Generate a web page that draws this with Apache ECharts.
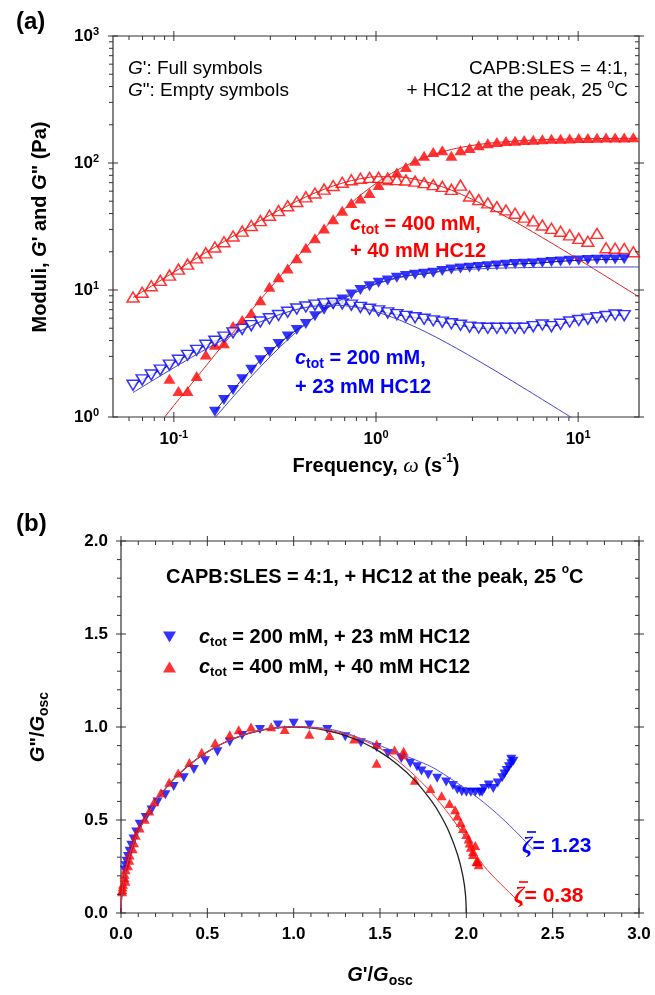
<!DOCTYPE html>
<html>
<head>
<meta charset="utf-8">
<script src="https://cdn.jsdelivr.net/npm/echarts@6/dist/echarts.min.js"></script>
<style>
  html, body { margin: 0; padding: 0; background: #fff; }
  #chart { width: 655px; height: 995px; }
</style>
</head>
<body>
<div id="chart"></div>
<script>
// ---- oscillatory sweep, angular frequency (rad/s) ----
const omega = [0.0628,0.0697,0.0773,0.0857,0.0951,0.1054,0.1169,0.1297,0.1439,0.1596,
  0.1770,0.1963,0.2178,0.2415,0.2679,0.2972,0.3296,0.3656,0.4055,0.4498,
  0.4989,0.5534,0.6138,0.6808,0.7551,0.8375,0.9290,1.030,1.143,1.268,
  1.406,1.560,1.730,1.919,2.128,2.360,2.618,2.904,3.221,3.573,
  3.963,4.395,4.875,5.408,5.998,6.653,7.379,8.185,9.078,10.07,
  11.17,12.39,13.74,15.24,16.90,18.75];

// c_tot = 400 mM + 40 mM HC12 (Pa)
const gPrime400 = [0.50,0.61,0.74,0.91,2.0,1.6,1.6,2.1,3.1,3.7,
  3.8,5.2,5.8,6.6,8.3,10.6,12.6,14.8,17.8,21.5,
  25.5,30.5,36,42,48.5,52.5,58,67,73,84,
  93,104,114,122,126,114,126,131,138,143,
  146.5,149,150,151.5,152.5,154,155,155.5,156,157,
  157,158,159,158.5,159,159.5];
const gDouble400 = [8.8,9.6,10.8,11.9,13.1,14.6,16.0,17.9,19.6,21.8,
  24.0,26.6,29.1,32.2,35.2,38.8,42.2,46.1,49.8,54.1,
  58.0,62.3,66.5,70.5,73.8,75.9,77.0,77.1,76.0,74.0,
  73.5,72.0,70.0,67.5,65.5,62.0,67.0,55.0,51.5,48.5,
  45.3,42.7,40.2,37.5,35.0,32.5,30.6,29.0,27.2,25.5,
  24.2,27.9,21.5,21.3,21.2,20.0];

// c_tot = 200 mM + 23 mM HC12 (Pa)
const gPrime200 = [0.17,0.21,0.25,0.31,0.38,0.46,0.56,0.68,0.83,1.1,
  1.36,1.63,1.98,2.35,2.8,3.25,3.75,4.3,4.85,5.4,
  6.2,7.0,7.7,8.4,9.2,10.0,10.7,11.4,11.9,12.5,
  12.9,13.2,13.4,13.7,14.1,14.5,14.8,15.0,15.2,15.4,
  15.6,15.8,16.0,16.1,16.2,16.4,16.6,16.8,17.0,17.1,
  17.2,17.3,17.4,17.4,17.5,null];
const gDouble200 = [1.78,1.96,2.14,2.34,2.56,2.80,3.06,3.35,3.67,3.95,
  4.26,4.60,4.90,5.24,5.60,5.94,6.30,6.68,7.08,7.35,
  7.60,7.78,7.86,7.78,7.60,7.30,7.05,6.85,6.60,6.40,
  6.20,6.05,5.88,5.72,5.58,5.42,5.28,5.10,5.02,5.00,
  5.00,5.00,5.00,5.00,5.15,5.30,5.15,5.38,5.60,5.75,
  5.90,6.05,6.18,6.36,6.28,null];

// Maxwell model curves
const fitOmega = [0.0628,0.08,0.1,0.13,0.16,0.2,0.25,0.32,0.4,0.5,0.63,0.8,1.0,
  1.26,1.6,2.0,2.5,3.2,4.0,5.0,6.3,8.0,10,12.6,16,20];
const fitGPrime400 = [0.487,0.787,1.23,2.06,3.10,4.79,7.36,11.7,17.6,25.8,37.4,52.6,69.1,
  87.2,104.9,119.1,130.5,139.7,145.4,149.4,152.1,153.9,155.0,155.8,156.2,156.5];
const fitGDouble400 = [8.72,11.08,13.82,17.86,21.84,27.0,33.19,41.24,49.47,58.18,66.85,74.10,77.94,
  78.01,73.93,67.16,58.84,49.21,40.99,33.69,27.22,21.70,17.48,13.94,11.01,8.82];
const fitGPrime200 = [0.161,0.260,0.403,0.669,0.990,1.49,2.21,3.31,4.61,6.16,7.89,9.66,11.12,
  12.34,13.29,13.92,14.36,14.67,14.86,14.98,15.06,15.11,15.14,15.17,15.18,15.19];
const fitGDouble200 = [1.558,1.972,2.442,3.117,3.751,4.523,5.358,6.276,6.987,7.462,7.594,7.316,6.737,
  5.938,5.035,4.219,3.479,2.779,2.251,1.816,1.449,1.145,0.918,0.730,0.575,0.456];

// scaling moduli for the Cole-Cole plot (Pa)
const gOsc400 = 77;
const gOsc200 = 7.7;

// Cole-Cole reference semicircle and model curves
const circleX = [0,0.005,0.02,0.05,0.1,0.15,0.2,0.3,0.4,0.5,0.6,0.7,0.8,0.9,1.0,
  1.1,1.2,1.3,1.4,1.5,1.6,1.7,1.8,1.85,1.9,1.95,1.98,1.995,2.0];
const circleY = [0,0.0999,0.199,0.3122,0.4359,0.5268,0.6,0.7141,0.8,0.866,0.9165,0.9539,0.9798,0.995,1,
  0.995,0.9798,0.9539,0.9165,0.866,0.8,0.7141,0.6,0.5268,0.4359,0.3122,0.199,0.0999,0];
const zeta038X = [0,0.005,0.02,0.05,0.1,0.2,0.3,0.4,0.5,0.6,0.7,0.8,0.9,1.0,1.1,1.2,1.3,
  1.4,1.5,1.6,1.7,1.8,1.9,2.0,2.1,2.2,2.25,2.3,2.33];
const zeta038Y = [0,0.1,0.2,0.312,0.436,0.6,0.714,0.8,0.866,0.917,0.955,0.981,0.996,1.0,0.997,0.984,0.962,
  0.93,0.885,0.82,0.74,0.645,0.53,0.4,0.255,0.155,0.11,0.065,0.04];
const zeta123X = [0,0.005,0.02,0.05,0.1,0.2,0.3,0.4,0.5,0.6,0.7,0.8,0.9,1.0,1.1,1.2,1.3,
  1.4,1.5,1.6,1.7,1.8,1.9,2.0,2.1,2.2,2.3,2.39];
const zeta123Y = [0,0.1,0.2,0.312,0.436,0.6,0.714,0.8,0.866,0.917,0.955,0.982,0.997,1.003,1.0,0.99,0.968,
  0.935,0.9,0.862,0.825,0.785,0.728,0.665,0.595,0.515,0.425,0.337];

// axis ticks
const freqMajor = [0.1, 1, 10];
const freqMinor = [0.06,0.07,0.08,0.09,0.2,0.3,0.4,0.5,0.6,0.7,0.8,0.9,2,3,4,5,6,7,8,9];
const modMajor = [1, 10, 100, 1000];
const modMinor = [2,3,4,5,6,7,8,9,20,30,40,50,60,70,80,90,200,300,400,500,600,700,800,900];
const ratioXMajor = [0,0.5,1.0,1.5,2.0,2.5,3.0];
const ratioXMinor = [0.1,0.2,0.3,0.4,0.6,0.7,0.8,0.9,1.1,1.2,1.3,1.4,1.6,1.7,1.8,1.9,2.1,2.2,2.3,2.4,2.6,2.7,2.8,2.9];
const ratioYMajor = [0,0.5,1.0,1.5,2.0];
const ratioYMinor = [0.1,0.2,0.3,0.4,0.6,0.7,0.8,0.9,1.1,1.2,1.3,1.4,1.6,1.7,1.8,1.9];

const FONT = '"Liberation Sans", Arial, Helvetica, sans-serif';
const SERIF = '"Liberation Serif", "Times New Roman", serif';
const RED = '#ff0000';
const BLUE = '#0000ff';
const AXIS = '#333333';

function pairs(xs, ys, minY) {
  const out = [];
  for (let i = 0; i < xs.length; i++) {
    const y = ys[i];
    if (y == null || (minY != null && y < minY)) continue;
    out.push([xs[i], y]);
  }
  return out;
}
function scaled(gp, gpp, gosc) {
  const out = [];
  for (let i = 0; i < gp.length; i++) {
    if (gp[i] == null || gpp[i] == null) continue;
    out.push([gp[i] / gosc, gpp[i] / gosc]);
  }
  return out;
}
// tick records: [value, value, side, major]; side 0 bottom, 1 top, 2 left, 3 right
function tickData(xMajor, xMinor, yMajor, yMinor) {
  const d = [];
  [0, 1].forEach(s => {
    xMajor.forEach(v => d.push([v, v, s, 1]));
    xMinor.forEach(v => d.push([v, v, s, 0]));
  });
  [2, 3].forEach(s => {
    yMajor.forEach(v => d.push([v, v, s, 1]));
    yMinor.forEach(v => d.push([v, v, s, 0]));
  });
  return d;
}
function tickRenderer(ext) {
  return function (params, api) {
    const v = api.value(0), side = api.value(2), major = api.value(3) === 1;
    const p = side === 0 ? api.coord([v, ext[2]])
            : side === 1 ? api.coord([v, ext[3]])
            : side === 2 ? api.coord([ext[0], v])
            : api.coord([ext[1], v]);
    const up = major ? 5 : 0;     // toward top / right
    const down = major ? 5 : 4;   // toward bottom / left
    const shape = side < 2
      ? { x1: p[0], y1: p[1] - up, x2: p[0], y2: p[1] + down }
      : { x1: p[0] - down, y1: p[1], x2: p[0] + up, y2: p[1] };
    return { type: 'line', shape: shape, style: { stroke: AXIS, lineWidth: 1 } };
  };
}

const labelRich = {
  b: { fontSize: 17, fontWeight: 'bold', fontFamily: FONT, color: '#000', lineHeight: 20 },
  s: { fontSize: 11, fontWeight: 'bold', fontFamily: FONT, color: '#000', verticalAlign: 'top', lineHeight: 11 }
};
function powLabel(v) {
  return '{b|10}{s|' + Math.round(Math.log10(v)) + '}';
}

function richSet(size, color, weight) {
  return {
    t: { fontSize: size, fontWeight: weight, fontFamily: FONT, fill: color, lineHeight: size + 6 },
    i: { fontSize: size, fontWeight: weight, fontStyle: 'italic', fontFamily: FONT, fill: color, lineHeight: size + 6 },
    sub: { fontSize: Math.round(size * 0.68), fontWeight: weight, fontFamily: FONT, fill: color, verticalAlign: 'bottom', lineHeight: Math.round(size * 0.68) },
    sup: { fontSize: Math.round(size * 0.62), fontWeight: weight, fontFamily: FONT, fill: color, verticalAlign: 'top', lineHeight: Math.round(size * 0.62) },
    w: { fontSize: size + 2, fontStyle: 'italic', fontFamily: SERIF, fill: color, lineHeight: size + 6 },
    z: { fontSize: size + 3, fontStyle: 'italic', fontWeight: 'bold', fontFamily: SERIF, fill: color, lineHeight: size + 6 }
  };
}
function label(x, y, text, opts) {
  opts = opts || {};
  return {
    type: 'text', x: x, y: y, rotation: opts.rotation || 0, silent: true, z: 50,
    style: {
      text: text,
      rich: richSet(opts.size || 18, opts.color || '#000', opts.weight || 'bold'),
      align: opts.align || 'left', verticalAlign: 'middle'
    }
  };
}
function overbar(x1, x2, y, color) {
  return { type: 'line', silent: true, z: 50, shape: { x1: x1, y1: y, x2: x2, y2: y },
           style: { stroke: color, lineWidth: 1.6 } };
}

const chart = echarts.init(document.getElementById('chart'), null, { renderer: 'canvas' });

const triUp = { symbol: 'triangle', symbolRotate: 0 };
const triDown = { symbol: 'triangle', symbolRotate: 180 };
const SYM_A = [12, 10];
const SYM_B = [10, 9];

const option = {
  animation: false,
  backgroundColor: '#ffffff',
  grid: [
    { left: 113, top: 36, width: 526, height: 381, show: true, borderColor: AXIS, borderWidth: 1.2, backgroundColor: 'transparent' },
    { left: 121, top: 541, width: 518, height: 372, show: true, borderColor: AXIS, borderWidth: 1.2, backgroundColor: 'transparent' }
  ],
  xAxis: [
    { type: 'log', logBase: 10, gridIndex: 0, min: 0.05, max: 20,
      axisLine: { show: false }, axisTick: { show: false }, splitLine: { show: false },
      axisLabel: { formatter: powLabel, rich: labelRich, margin: 12, showMinLabel: false, showMaxLabel: false } },
    { type: 'value', gridIndex: 1, min: 0, max: 3, interval: 0.5,
      axisLine: { show: false }, axisTick: { show: false }, splitLine: { show: false },
      axisLabel: { formatter: v => v.toFixed(1), margin: 13, fontSize: 17, fontWeight: 'bold', fontFamily: FONT, color: '#000' } }
  ],
  yAxis: [
    { type: 'log', logBase: 10, gridIndex: 0, min: 1, max: 1000,
      axisLine: { show: false }, axisTick: { show: false }, splitLine: { show: false },
      axisLabel: { formatter: powLabel, rich: labelRich, margin: 14 } },
    { type: 'value', gridIndex: 1, min: 0, max: 2, interval: 0.5,
      axisLine: { show: false }, axisTick: { show: false }, splitLine: { show: false },
      axisLabel: { formatter: v => v.toFixed(1), margin: 13, fontSize: 17, fontWeight: 'bold', fontFamily: FONT, color: '#000' } }
  ],
  legend: {
    data: [
      { name: 'c200', icon: 'path://M0,0L12,0L6,10Z' },
      { name: 'c400', icon: 'path://M6,0L12,10L0,10Z' }
    ],
    orient: 'vertical', left: 158, top: 622, itemGap: 8, itemWidth: 13, itemHeight: 11,
    selectedMode: false,
    formatter: function (name) {
      return name === 'c200'
        ? '{sp| }{i|c}{sub|tot}{t| = 200 mM, + 23 mM HC12}'
        : '{sp| }{i|c}{sub|tot}{t| = 400 mM, + 40 mM HC12}';
    },
    textStyle: {
      rich: {
        sp: { width: 18, fontSize: 20 },
        t: { fontSize: 20, fontWeight: 'bold', fontFamily: FONT, color: '#000', lineHeight: 24 },
        i: { fontSize: 20, fontWeight: 'bold', fontStyle: 'italic', fontFamily: FONT, color: '#000', lineHeight: 24 },
        sub: { fontSize: 13, fontWeight: 'bold', fontFamily: FONT, color: '#000', verticalAlign: 'bottom', lineHeight: 13 }
      }
    }
  },
  series: [
    // ---- panel (a): frequency sweep ----
    { type: 'custom', xAxisIndex: 0, yAxisIndex: 0, silent: true, z: 20,
      renderItem: tickRenderer([0.05, 20, 1, 1000]),
      data: tickData(freqMajor, freqMinor, modMajor, modMinor) },
    { type: 'line', xAxisIndex: 0, yAxisIndex: 0, data: pairs(omega, gDouble200), smooth: 0.4,
      showSymbol: false, lineStyle: { color: '#111133', width: 1 }, z: 2, silent: true },
    { type: 'line', xAxisIndex: 0, yAxisIndex: 0, data: pairs(omega, gPrime200, 1), smooth: 0.4,
      showSymbol: false, lineStyle: { color: '#111133', width: 1 }, z: 2, silent: true },
    Object.assign({ type: 'scatter', name: 'G400p', xAxisIndex: 0, yAxisIndex: 0, clip: false,
      data: pairs(omega, gPrime400, 1), symbolSize: SYM_A, z: 3,
      itemStyle: { color: RED } }, triUp),
    Object.assign({ type: 'scatter', name: 'G400pp', xAxisIndex: 0, yAxisIndex: 0, clip: false,
      data: pairs(omega, gDouble400, 1), symbolSize: SYM_A, z: 3,
      itemStyle: { color: '#ffffff', borderColor: RED, borderWidth: 1.5 } }, triUp),
    Object.assign({ type: 'scatter', name: 'G200p', xAxisIndex: 0, yAxisIndex: 0, clip: false,
      data: pairs(omega, gPrime200, 1), symbolSize: SYM_A, z: 3,
      itemStyle: { color: BLUE } }, triDown),
    Object.assign({ type: 'scatter', name: 'G200pp', xAxisIndex: 0, yAxisIndex: 0, clip: false,
      data: pairs(omega, gDouble200, 1), symbolSize: SYM_A, z: 3,
      itemStyle: { color: '#ffffff', borderColor: BLUE, borderWidth: 1.5 } }, triDown),
    { type: 'line', xAxisIndex: 0, yAxisIndex: 0, data: pairs(fitOmega, fitGPrime400), smooth: 0.3,
      showSymbol: false, lineStyle: { color: '#ee2020', width: 1 }, z: 4, silent: true },
    { type: 'line', xAxisIndex: 0, yAxisIndex: 0, data: pairs(fitOmega, fitGDouble400), smooth: 0.3,
      showSymbol: false, lineStyle: { color: '#ee2020', width: 1 }, z: 4, silent: true },
    { type: 'line', xAxisIndex: 0, yAxisIndex: 0, data: pairs(fitOmega, fitGPrime200), smooth: 0.3,
      showSymbol: false, lineStyle: { color: '#4444cc', width: 1 }, z: 4, silent: true },
    { type: 'line', xAxisIndex: 0, yAxisIndex: 0, data: pairs(fitOmega, fitGDouble200), smooth: 0.3,
      showSymbol: false, lineStyle: { color: '#4444cc', width: 1 }, z: 4, silent: true },

    // ---- panel (b): Cole-Cole plot ----
    { type: 'custom', xAxisIndex: 1, yAxisIndex: 1, silent: true, z: 20,
      renderItem: tickRenderer([0, 3, 0, 2]),
      data: tickData(ratioXMajor, ratioXMinor, ratioYMajor, ratioYMinor) },
    Object.assign({ type: 'scatter', name: 'c200', xAxisIndex: 1, yAxisIndex: 1, clip: false,
      data: scaled(gPrime200, gDouble200, gOsc200), symbolSize: SYM_B, z: 3,
      itemStyle: { color: BLUE } }, triDown),
    Object.assign({ type: 'scatter', name: 'c400', xAxisIndex: 1, yAxisIndex: 1, clip: false,
      data: scaled(gPrime400, gDouble400, gOsc400), symbolSize: SYM_B, z: 3,
      itemStyle: { color: RED } }, triUp),
    { type: 'line', xAxisIndex: 1, yAxisIndex: 1, data: pairs(circleX, circleY), smooth: 0.3,
      showSymbol: false, lineStyle: { color: '#222222', width: 1.3 }, z: 4, silent: true },
    { type: 'line', xAxisIndex: 1, yAxisIndex: 1, data: pairs(zeta123X, zeta123Y), smooth: 0.3,
      showSymbol: false, lineStyle: { color: '#5050e0', width: 1 }, z: 5, silent: true },
    { type: 'line', xAxisIndex: 1, yAxisIndex: 1, data: pairs(zeta038X, zeta038Y), smooth: 0.3,
      showSymbol: false, lineStyle: { color: '#ff3030', width: 1 }, z: 5, silent: true }
  ],
  graphic: [
    label(16, 22, '{t|(a)}', { size: 24 }),
    label(16, 524, '{t|(b)}', { size: 24 }),
    label(40, 227, '{t|Moduli, }{i|G}{t|\' and }{i|G}{t|" (Pa)}', { size: 20, rotation: Math.PI / 2, align: 'center' }),
    label(376, 466, '{t|Frequency, }{w|ω}{t| (s}{sup|-1}{t|)}', { size: 20, align: 'center' }),
    label(38, 727, '{i|G}{t|"/}{i|G}{sub|osc}', { size: 20, rotation: Math.PI / 2, align: 'center' }),
    label(380, 975, '{i|G}{t|\'/}{i|G}{sub|osc}', { size: 20, align: 'center' }),

    label(128, 69, '{i|G}{t|\': Full symbols}', { size: 19, weight: 'normal' }),
    label(128, 91, '{i|G}{t|": Empty symbols}', { size: 19, weight: 'normal' }),
    label(628, 69, '{t|CAPB:SLES = 4:1,}', { size: 19, weight: 'normal', align: 'right' }),
    label(628, 91, '{t|+ HC12 at the peak, 25 }{sup|o}{t|C}', { size: 19, weight: 'normal', align: 'right' }),

    label(350, 224, '{i|c}{sub|tot}{t| = 400 mM,}', { size: 20, color: RED }),
    label(350, 251, '{t|+ 40 mM HC12}', { size: 20, color: RED }),
    label(295, 358, '{i|c}{sub|tot}{t| = 200 mM,}', { size: 20, color: BLUE }),
    label(295, 387, '{t|+ 23 mM HC12}', { size: 20, color: BLUE }),

    label(166, 577, '{t|CAPB:SLES = 4:1, + HC12 at the peak, 25 }{sup|o}{t|C}', { size: 20 }),
    label(522, 846, '{z|ζ}{t|= 1.23}', { size: 21, color: BLUE }),
    overbar(527, 536, 832, BLUE),
    label(514, 896, '{z|ζ}{t|= 0.38}', { size: 21, color: RED }),
    overbar(519, 528, 882, RED)
  ]
};

chart.setOption(option);
</script>
</body>
</html>
